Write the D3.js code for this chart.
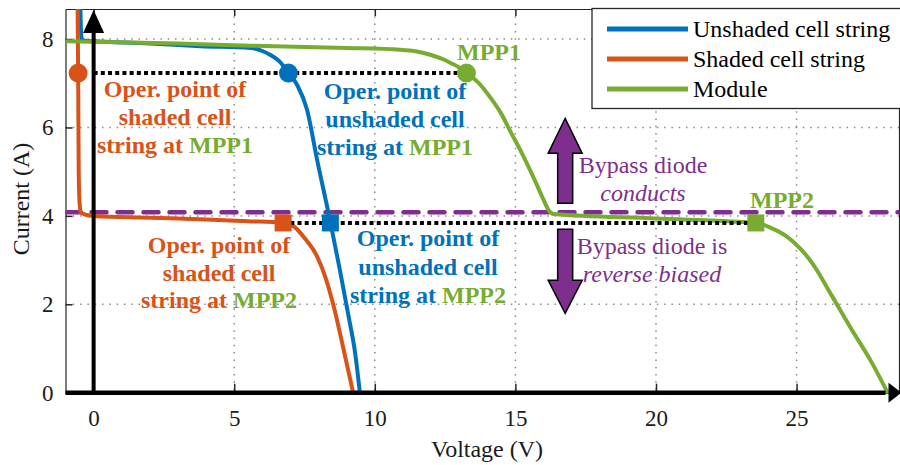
<!DOCTYPE html>
<html>
<head>
<meta charset="utf-8">
<script src="https://cdn.jsdelivr.net/npm/d3@7"></script>
<style>
  html, body { margin: 0; padding: 0; background: #fff; }
  svg { display: block; font-family: "Liberation Serif", "Times New Roman", serif; }
</style>
</head>
<body>
<svg id="chart" width="900" height="465"></svg>
<script>
// I-V characteristics of a partially shaded PV module (two MPPs)
const unshadedV = [-0.47, -0.45, -0.42, -0.3, 0, 2, 3.8, 5.58, 6.0, 6.29, 6.6, 6.93, 7.25, 7.59, 7.95, 8.42, 8.75, 9.07, 9.3, 9.47];
const unshadedI = [8.75, 8.2, 8.0, 7.96, 7.95, 7.9, 7.84, 7.8, 7.73, 7.64, 7.5, 7.23, 6.95, 6.4, 5.26, 3.86, 2.8, 1.72, 0.9, 0];

const shadedV = [-0.57, -0.55, -0.53, -0.5, -0.45, -0.3, 0, 2, 4, 5.5, 6.74, 7.12, 7.5, 7.95, 8.25, 8.54, 8.9, 9.23];
const shadedI = [8.75, 7.23, 5.0, 4.3, 4.08, 4.03, 4.0, 3.96, 3.92, 3.88, 3.84, 3.76, 3.5, 3.08, 2.6, 1.95, 0.95, 0];

const moduleV = [-1, 0, 3, 5.6, 9, 10.9, 11.5, 12.0, 12.4, 12.7, 13.0, 13.26, 13.69, 14.12, 14.48, 14.83, 15.26, 15.65, 15.97, 16.18, 16.36, 20, 23.55, 24.08, 24.62, 25.15, 25.58, 26.22, 26.93, 27.64, 28.24];
const moduleI = [7.95, 7.94, 7.9, 7.85, 7.8, 7.76, 7.72, 7.64, 7.55, 7.46, 7.36, 7.23, 7.01, 6.67, 6.33, 5.9, 5.38, 4.86, 4.41, 4.13, 4.04, 3.94, 3.84, 3.73, 3.55, 3.25, 2.91, 2.23, 1.46, 0.72, 0];

// operating points: MPP1 (circles) and MPP2 (squares), ordered shaded, unshaded, module
const mpp1V = [-0.55, 6.93, 13.26];
const mpp1I = 7.23;
const mpp2V = [6.74, 8.42, 23.55];
const mpp2I = 3.84;
const bypassI = 4.08;

const xTicks = [0, 5, 10, 15, 20, 25];
const yTicks = [0, 2, 4, 6, 8];
const legendLabels = ["Unshaded cell string", "Shaded cell string", "Module"];

const C = { blue: "#0072BD", orange: "#D95319", green: "#77AC30", purple: "#7E2F8E", axis: "#262626" };
const seriesColors = [C.blue, C.orange, C.green];
const markerColors = [C.orange, C.blue, C.green];

const svg = d3.select("#chart");
const L = 65.5, R = 899.5, T = 9, B = 392.7;
const x = d3.scaleLinear().domain([-1, 28.66]).range([L, R]);
const y = d3.scaleLinear().domain([0, 8.68]).range([B, T]);

svg.append("defs").append("clipPath").attr("id", "plotClip")
  .append("rect").attr("x", L).attr("y", T).attr("width", R - L).attr("height", B - T);

// dotted grid
const grid = svg.append("g").attr("stroke", "#8a8a8a").attr("stroke-width", 1.5).attr("stroke-dasharray", "1.5,5.8");
grid.selectAll("line.gx").data(xTicks).join("line")
  .attr("x1", d => x(d)).attr("x2", d => x(d)).attr("y1", T).attr("y2", B);
grid.selectAll("line.gy").data(yTicks).join("line")
  .attr("x1", L).attr("x2", R).attr("y1", d => y(d)).attr("y2", d => y(d));

// box with inward ticks
const axFont = "23px";
const bottomAxis = svg.append("g").attr("transform", `translate(0,${B})`)
  .call(d3.axisBottom(x).tickValues(xTicks).tickSizeInner(-9).tickSizeOuter(0).tickPadding(17));
const leftAxis = svg.append("g").attr("transform", `translate(${L},0)`)
  .call(d3.axisLeft(y).tickValues(yTicks).tickSizeInner(-7).tickSizeOuter(0).tickPadding(12));
const topAxis = svg.append("g").attr("transform", `translate(0,${T})`)
  .call(d3.axisTop(x).tickValues(xTicks).tickSizeInner(-7).tickSizeOuter(0).tickFormat(""));
[bottomAxis, leftAxis, topAxis].forEach(g => {
  g.selectAll("path.domain").attr("stroke", C.axis).attr("stroke-width", 1.2);
  g.selectAll(".tick line").attr("stroke", C.axis).attr("stroke-width", 1.5);
  g.selectAll("text").attr("fill", "#1a1a1a").style("font-size", axFont)
    .style("font-family", "'Liberation Serif', 'Times New Roman', serif");
});
svg.append("line").attr("x1", R).attr("x2", R).attr("y1", T).attr("y2", B)
  .attr("stroke", C.axis).attr("stroke-width", 1.2);

// bypass threshold
const plot = svg.append("g").attr("clip-path", "url(#plotClip)");
plot.append("line")
  .attr("x1", L).attr("x2", R).attr("y1", y(bypassI)).attr("y2", y(bypassI))
  .attr("stroke", C.purple).attr("stroke-width", 4.5).attr("stroke-dasharray", "15,11")
  .attr("stroke-linecap", "round");

// I-V curves
const line = d3.line().x(d => x(d[0])).y(d => y(d[1])).curve(d3.curveMonotoneX);
const curves = [
  d3.zip(unshadedV, unshadedI),
  d3.zip(shadedV, shadedI),
  d3.zip(moduleV, moduleI)
];
curves.forEach((pts, i) => {
  plot.append("path").datum(pts).attr("d", line)
    .attr("fill", "none").attr("stroke", seriesColors[i]).attr("stroke-width", 4)
    .attr("stroke-linejoin", "round");
});

// operating point guides
plot.append("line")
  .attr("x1", x(0)).attr("x2", x(mpp1V[2])).attr("y1", y(mpp1I)).attr("y2", y(mpp1I))
  .attr("stroke", "#000").attr("stroke-width", 4).attr("stroke-dasharray", "4,3.2");
plot.append("line")
  .attr("x1", x(mpp2V[0])).attr("x2", x(mpp2V[2])).attr("y1", y(mpp2I)).attr("y2", y(mpp2I))
  .attr("stroke", "#000").attr("stroke-width", 4).attr("stroke-dasharray", "4,3.2");

// markers
plot.selectAll("circle.mpp1").data(mpp1V).join("circle")
  .attr("cx", d => x(d)).attr("cy", y(mpp1I)).attr("r", 9.5)
  .attr("fill", (d, i) => markerColors[i]);
plot.selectAll("rect.mpp2").data(mpp2V).join("rect")
  .attr("x", d => x(d) - 8.5).attr("y", y(mpp2I) - 8.5).attr("width", 17).attr("height", 17)
  .attr("fill", (d, i) => markerColors[i]);

// axis arrows through the origin
const x0 = x(0), y0 = y(0);
svg.append("line").attr("x1", x0).attr("x2", x0).attr("y1", y0 + 2).attr("y2", T + 20)
  .attr("stroke", "#000").attr("stroke-width", 4);
svg.append("path").attr("d", `M${x0},${T + 1} L${x0 - 10.5},${T + 24} L${x0 + 10.5},${T + 24} Z`).attr("fill", "#000");
svg.append("line").attr("x1", L).attr("x2", R - 14).attr("y1", y0).attr("y2", y0)
  .attr("stroke", "#000").attr("stroke-width", 4.5);
svg.append("path").attr("d", `M${R + 2},${y0} L${R - 11},${y0 - 10} L${R - 11},${y0 + 10} Z`).attr("fill", "#000");

// bypass diode arrows
const ax = x(16.77), ay = y(bypassI);
const sw = 7.5, hw = 17;
svg.append("path")
  .attr("d", `M${ax - sw},${ay - 9} L${ax - sw},${ay - 59} L${ax - hw},${ay - 59} L${ax},${ay - 94} L${ax + hw},${ay - 59} L${ax + sw},${ay - 59} L${ax + sw},${ay - 9} Z`)
  .attr("fill", C.purple).attr("stroke", "#000").attr("stroke-width", 1.5);
svg.append("path")
  .attr("d", `M${ax - sw},${ay + 17} L${ax - sw},${ay + 68} L${ax - hw},${ay + 68} L${ax},${ay + 101} L${ax + hw},${ay + 68} L${ax + sw},${ay + 68} L${ax + sw},${ay + 17} Z`)
  .attr("fill", C.purple).attr("stroke", "#000").attr("stroke-width", 1.5);

// annotations
const notes = svg.append("g").style("font-size", "24px");
function block(cx, baselines, color, lines, mppLabel) {
  const t = notes.append("text").attr("text-anchor", "middle").attr("font-weight", "bold").attr("fill", color);
  lines.forEach((s, i) => {
    t.append("tspan").attr("x", cx).attr("y", baselines[i]).text(s);
    if (i === lines.length - 1) {
      t.append("tspan").attr("fill", C.green).text(mppLabel);
    }
  });
}
block(175, [97, 125, 153], C.orange, ["Oper. point of", "shaded cell", "string at "], "MPP1");
block(395, [99, 127, 155], C.blue, ["Oper. point of", "unshaded cell", "string at "], "MPP1");
block(219, [253, 281, 308], C.orange, ["Oper. point of", "shaded cell", "string at "], "MPP2");
block(428, [246, 275, 303], C.blue, ["Oper. point of", "unshaded cell", "string at "], "MPP2");

notes.append("text").attr("x", 489).attr("y", 60).attr("text-anchor", "middle")
  .attr("font-weight", "bold").attr("fill", C.green).text("MPP1");
notes.append("text").attr("x", 782).attr("y", 208).attr("text-anchor", "middle")
  .attr("font-weight", "bold").attr("fill", C.green).text("MPP2");

const purpleNotes = [
  { t: "Bypass diode", cx: 643, y: 173, italic: false },
  { t: "conducts", cx: 643, y: 201, italic: true },
  { t: "Bypass diode is", cx: 652, y: 254, italic: false },
  { t: "reverse biased", cx: 652, y: 282, italic: true }
];
purpleNotes.forEach(n => {
  notes.append("text").attr("x", n.cx).attr("y", n.y).attr("text-anchor", "middle")
    .attr("fill", C.purple).attr("font-style", n.italic ? "italic" : "normal").text(n.t);
});

// axis titles
svg.append("text").attr("x", 487).attr("y", 457).attr("text-anchor", "middle")
  .style("font-size", "24px").attr("fill", "#1a1a1a").text("Voltage (V)");
svg.append("text").attr("transform", "translate(29,199) rotate(-90)").attr("text-anchor", "middle")
  .style("font-size", "24px").attr("fill", "#1a1a1a").text("Current (A)");

// legend
const lg = svg.append("g");
lg.append("rect").attr("x", 592).attr("y", 8.5).attr("width", 312).attr("height", 100)
  .attr("fill", "#fff").attr("stroke", C.axis).attr("stroke-width", 1.3);
legendLabels.forEach((s, i) => {
  const ly = 29 + i * 30;
  lg.append("line").attr("x1", 607).attr("x2", 688).attr("y1", ly).attr("y2", ly)
    .attr("stroke", seriesColors[i]).attr("stroke-width", 5);
  lg.append("text").attr("x", 693).attr("y", ly + 7.5).style("font-size", "24px")
    .attr("fill", "#000").text(s);
});
</script>
</body>
</html>
